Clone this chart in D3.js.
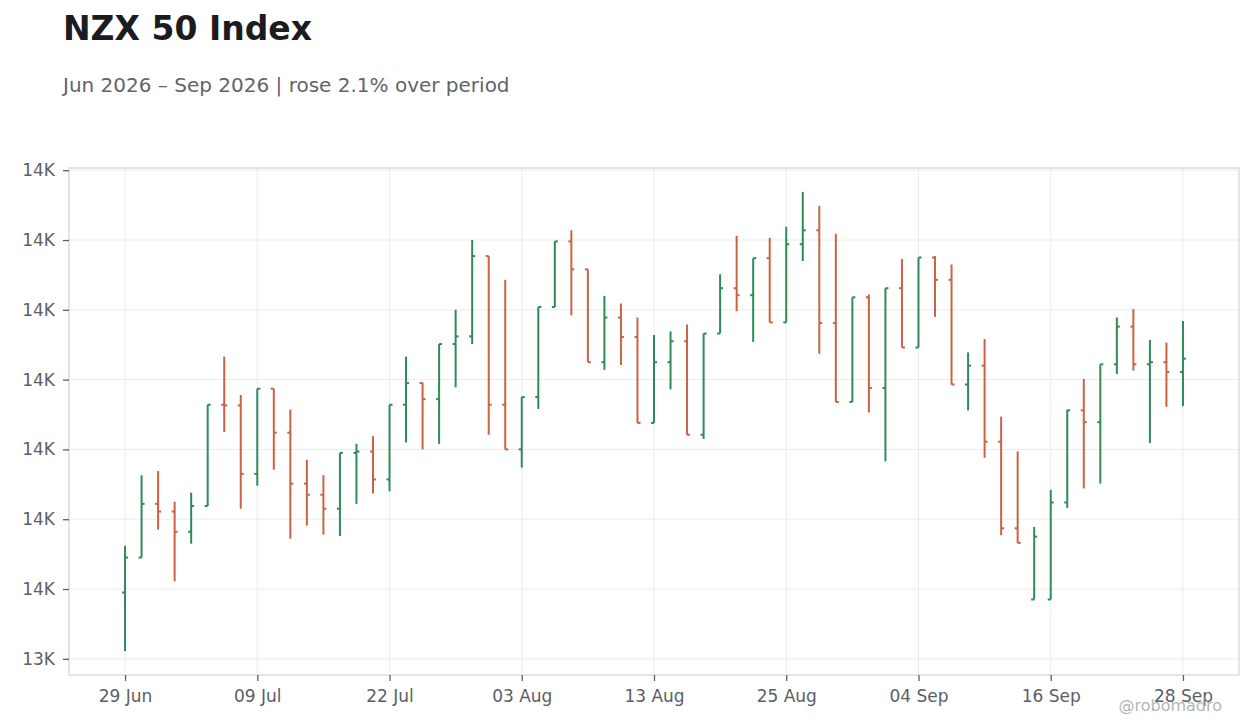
<!DOCTYPE html>
<html>
<head>
<meta charset="utf-8">
<script src="https://cdn.jsdelivr.net/npm/d3@7"></script>
<style>
    body { margin: 0; background: #ffffff; }
    svg { display: block; font-family: "DejaVu Sans", sans-serif; }
</style>
</head>
<body>
<svg id="chart" width="1260" height="728"></svg>
<script>
// Trading days (10 Jul is a holiday)
const dates = [
    "2026-06-29", "2026-06-30", "2026-07-01", "2026-07-02", "2026-07-03",
    "2026-07-06", "2026-07-07", "2026-07-08", "2026-07-09",
    "2026-07-13", "2026-07-14", "2026-07-15", "2026-07-16", "2026-07-17",
    "2026-07-20", "2026-07-21", "2026-07-22", "2026-07-23", "2026-07-24",
    "2026-07-27", "2026-07-28", "2026-07-29", "2026-07-30", "2026-07-31",
    "2026-08-03", "2026-08-04", "2026-08-05", "2026-08-06", "2026-08-07",
    "2026-08-10", "2026-08-11", "2026-08-12", "2026-08-13", "2026-08-14",
    "2026-08-17", "2026-08-18", "2026-08-19", "2026-08-20", "2026-08-21",
    "2026-08-24", "2026-08-25", "2026-08-26", "2026-08-27", "2026-08-28",
    "2026-08-31", "2026-09-01", "2026-09-02", "2026-09-03", "2026-09-04",
    "2026-09-07", "2026-09-08", "2026-09-09", "2026-09-10", "2026-09-11",
    "2026-09-14", "2026-09-15", "2026-09-16", "2026-09-17", "2026-09-18",
    "2026-09-21", "2026-09-22", "2026-09-23", "2026-09-24", "2026-09-25",
    "2026-09-28"
];

const opens = [
    13495, 13545, 13622, 13611, 13582, 13619, 13764, 13763, 13665, 13787,
    13724, 13651, 13635, 13615, 13695, 13697, 13657, 13764, 13795, 13772,
    13851, 13862, 13977, 13764, 13700, 13775, 13904, 13998, 13958, 13825,
    13889, 13861, 13738, 13825, 13855, 13721, 13866, 13931, 13921, 13974,
    13882, 13994, 14014, 13881, 13768, 13918, 13788, 13931, 13846, 13975,
    13943, 13793, 13820, 13711, 13587, 13485, 13485, 13624, 13756, 13739,
    13822, 13876, 13822, 13825, 13811
];
const highs = [
    13562, 13663, 13669, 13625, 13638, 13764, 13833, 13778, 13787, 13787,
    13757, 13685, 13663, 13695, 13708, 13719, 13764, 13833, 13796, 13851,
    13900, 14000, 13977, 13943, 13775, 13904, 13998, 14014, 13958, 13920,
    13909, 13889, 13864, 13869, 13879, 13866, 13951, 14006, 13974, 14003,
    14019, 14069, 14049, 14009, 13918, 13922, 13931, 13973, 13975, 13977,
    13965, 13839, 13858, 13747, 13697, 13589, 13642, 13757, 13801, 13822,
    13889, 13901, 13857, 13853, 13884
];
const lows = [
    13411, 13545, 13585, 13511, 13565, 13619, 13725, 13615, 13648, 13671,
    13572, 13591, 13578, 13576, 13622, 13637, 13640, 13710, 13700, 13708,
    13789, 13851, 13721, 13700, 13674, 13758, 13904, 13892, 13825, 13814,
    13821, 13738, 13738, 13786, 13721, 13715, 13866, 13898, 13854, 13882,
    13882, 13970, 13837, 13768, 13768, 13753, 13683, 13846, 13846, 13890,
    13793, 13756, 13688, 13577, 13566, 13485, 13485, 13616, 13644, 13651,
    13808, 13813, 13709, 13761, 13762
];
const closes = [
    13545, 13622, 13611, 13582, 13619, 13764, 13763, 13665, 13787, 13724,
    13651, 13635, 13615, 13695, 13697, 13657, 13764, 13795, 13772, 13851,
    13862, 13977, 13764, 13700, 13775, 13904, 13998, 13958, 13825, 13889,
    13861, 13738, 13825, 13855, 13721, 13866, 13931, 13921, 13974, 13882,
    13994, 14014, 13881, 13768, 13918, 13788, 13931, 13846, 13975, 13943,
    13793, 13820, 13711, 13587, 13566, 13575, 13624, 13756, 13739, 13822,
    13876, 13822, 13825, 13811, 13830
];

const xTickDates = [
    "2026-06-29", "2026-07-09", "2026-07-22", "2026-08-03", "2026-08-13",
    "2026-08-25", "2026-09-04", "2026-09-16", "2026-09-28"
];
const yTicks = [13400, 13500, 13600, 13700, 13800, 13900, 14000, 14100];

const upColor = "#2e8b57",
    downColor = "#cc6144";

let viewChart = {
    render: function() {
        const svg = d3.select("#chart");
        svg.selectAll("*").remove();

        const plot = { left: 69, right: 1239, top: 168, bottom: 675 };

        // Titles
        svg.append("text")
            .attr("x", 63).attr("y", 40)
            .attr("font-size", 33).attr("font-weight", "bold")
            .attr("fill", "#1b1b20")
            .text("NZX 50 Index");
        svg.append("text")
            .attr("x", 63).attr("y", 92)
            .attr("font-size", 20)
            .attr("fill", "#62646b")
            .text("Jun 2026 \u2013 Sep 2026 | rose 2.1% over period");

        // Scales
        const lo = d3.min(lows), hi = d3.max(highs), pad = (hi - lo) * 0.052;
        const xScale = d3.scalePoint()
            .domain(dates)
            .range([plot.left, plot.right])
            .padding(3.39);
        const yScale = d3.scaleLinear()
            .domain([lo - pad, hi + pad])
            .range([plot.bottom, plot.top]);

        // Grid
        const grid = svg.append("g")
            .attr("stroke", "#ececec")
            .attr("stroke-width", 1);
        grid.selectAll(".gy").data(yTicks).enter().append("line")
            .attr("x1", plot.left).attr("x2", plot.right)
            .attr("y1", d => yScale(d)).attr("y2", d => yScale(d));
        grid.selectAll(".gx").data(xTickDates).enter().append("line")
            .attr("x1", d => xScale(d)).attr("x2", d => xScale(d))
            .attr("y1", plot.top).attr("y2", plot.bottom);

        svg.append("rect")
            .attr("x", plot.left).attr("y", plot.top)
            .attr("width", plot.right - plot.left)
            .attr("height", plot.bottom - plot.top)
            .attr("fill", "none")
            .attr("stroke", "#dcdcdc")
            .attr("stroke-width", 1.5);

        // Axes
        const parse = d3.timeParse("%Y-%m-%d"),
            fmt = d3.timeFormat("%d %b");
        const xAxis = d3.axisBottom(xScale)
            .tickValues(xTickDates)
            .tickSize(6)
            .tickPadding(9)
            .tickFormat(d => fmt(parse(d)));
        const yAxis = d3.axisLeft(yScale)
            .tickValues(yTicks)
            .tickSize(6)
            .tickPadding(8)
            .tickFormat(d => d3.format(".2s")(d).replace("k", "K"));

        const gx = svg.append("g")
            .attr("transform", `translate(0,${plot.bottom})`)
            .call(xAxis);
        const gy = svg.append("g")
            .attr("transform", `translate(${plot.left},0)`)
            .call(yAxis);
        [gx, gy].forEach(g => {
            g.select(".domain").remove();
            g.selectAll(".tick line").attr("stroke", "#5c5e66").attr("stroke-width", 1.3);
            g.selectAll(".tick text")
                .attr("fill", "#5c5e66")
                .attr("font-size", 17)
                .attr("font-family", "DejaVu Sans, sans-serif");
        });

        // OHLC bars
        const data = dates.map((d, i) => ({
            date: d, open: opens[i], high: highs[i], low: lows[i], close: closes[i]
        }));
        const bars = svg.append("g").selectAll(".bar").data(data).enter().append("g")
            .attr("class", "bar")
            .attr("stroke", d => d.close >= d.open ? upColor : downColor)
            .attr("stroke-width", 2);
        bars.append("line")
            .attr("x1", d => xScale(d.date)).attr("x2", d => xScale(d.date))
            .attr("y1", d => yScale(d.high)).attr("y2", d => yScale(d.low));
        bars.append("line")
            .attr("x1", d => xScale(d.date) - 3).attr("x2", d => xScale(d.date))
            .attr("y1", d => yScale(d.open)).attr("y2", d => yScale(d.open));
        bars.append("line")
            .attr("x1", d => xScale(d.date)).attr("x2", d => xScale(d.date) + 3)
            .attr("y1", d => yScale(d.close)).attr("y2", d => yScale(d.close));

        // Watermark
        svg.append("text")
            .attr("x", 1222).attr("y", 711)
            .attr("text-anchor", "end")
            .attr("font-size", 16)
            .attr("fill", "#b5b5b8")
            .text("@robomadro");
    }
}

viewChart.render();
</script>
</body>
</html>
